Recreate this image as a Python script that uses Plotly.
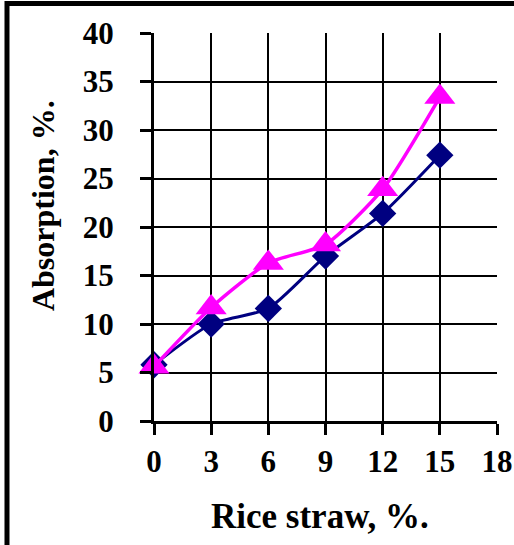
import plotly.graph_objects as go

rice_straw = [0, 3, 6, 9, 12, 15]
absorption_a = [5.8, 10.0, 11.6, 17.0, 21.4, 27.4]
absorption_b = [5.6, 11.7, 16.3, 18.2, 23.9, 33.4]

x_ticks = [0, 3, 6, 9, 12, 15, 18]
y_ticks = [0, 5, 10, 15, 20, 25, 30, 35, 40]

FONT = "Liberation Serif"

fig = go.Figure()
fig.add_trace(go.Scatter(
    x=rice_straw, y=absorption_a, mode="lines+markers",
    line=dict(color="#000080", width=3, shape="spline", smoothing=0.6),
    marker=dict(symbol="diamond", size=21, color="#000080"),
    cliponaxis=False, showlegend=False))
fig.add_trace(go.Scatter(
    x=rice_straw, y=absorption_b, mode="lines+markers",
    line=dict(color="#FF00FF", width=3.5, shape="spline", smoothing=0.6),
    marker=dict(symbol="triangle-up", size=27, color="#FF00FF"),
    cliponaxis=False, showlegend=False))

axis_common = dict(
    showgrid=True, gridcolor="black", gridwidth=2,
    showline=True, linecolor="black", linewidth=3,
    ticks="outside", ticklen=11, tickwidth=3, tickcolor="black",
    zeroline=False, automargin=False,
    tickfont=dict(family=FONT, size=31, color="black", weight="bold"),
)

fig.update_xaxes(range=[0, 18], tickvals=x_ticks, ticklabelstandoff=0, **axis_common)
fig.update_yaxes(range=[0, 40], tickvals=y_ticks, ticklabelstandoff=20, **axis_common)

fig.add_annotation(text="<b>Rice straw, %.</b>", xref="paper", yref="paper",
                   x=0.484, y=-0.245, xanchor="center", yanchor="middle",
                   showarrow=False, font=dict(family=FONT, size=35, color="black"))
fig.add_annotation(text="<b>Absorption, %.</b>", xref="paper", yref="paper",
                   x=-0.3236, y=0.554, xanchor="center", yanchor="middle",
                   textangle=-90, showarrow=False,
                   font=dict(family=FONT, size=32, color="black"))

fig.add_shape(type="rect", xref="paper", yref="paper",
              x0=-0.4286, x1=1.3, y0=-0.6, y1=1.076,
              line=dict(color="black", width=5), fillcolor="rgba(0,0,0,0)")

fig.update_layout(
    width=514, height=545,
    margin=dict(l=154, r=17, t=33, b=124),
    paper_bgcolor="white", plot_bgcolor="white",
)

fig.write_html("out.html")
